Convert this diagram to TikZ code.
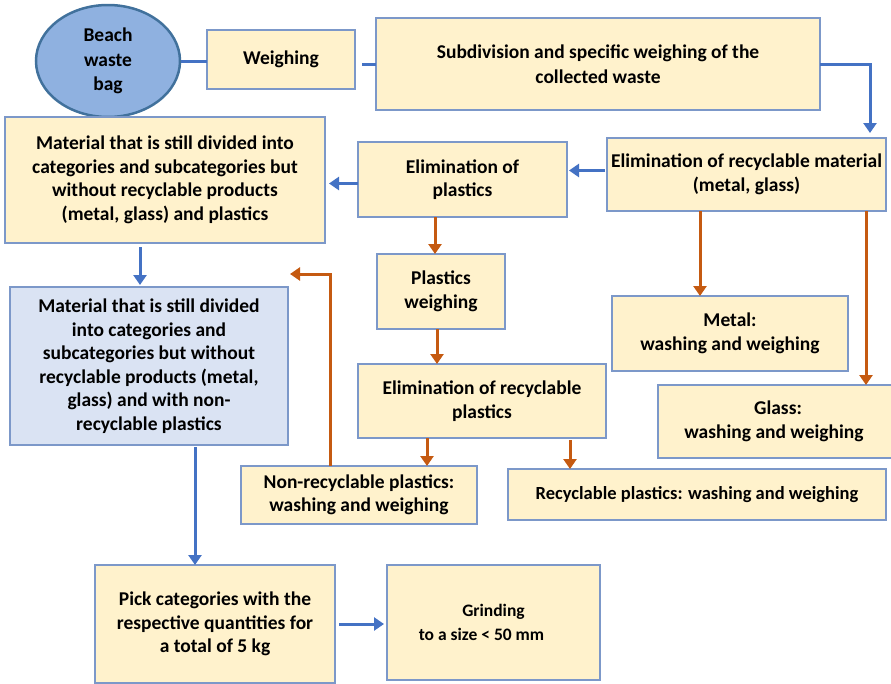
\documentclass[tikz,border=0pt]{standalone}
\usepackage{fontspec}
\setmainfont{Carlito}
\usetikzlibrary{arrows.meta,shapes.geometric}
\definecolor{boxfill}{HTML}{FFF2CC}
\definecolor{boxdraw}{HTML}{7C98C9}
\definecolor{bluefill}{HTML}{DAE3F3}
\definecolor{bagfill}{HTML}{8FB1E0}
\definecolor{bagdraw}{HTML}{41719C}
\definecolor{barrow}{HTML}{4472C4}
\definecolor{oarrow}{HTML}{C55A11}
\tikzset{
  box/.style={draw=boxdraw, fill=boxfill, line width=1.5pt, inner sep=0pt, outer sep=0pt,
    anchor=north west, align=center, font=\bfseries\fontsize{19.5}{23.5}\selectfont},
  bline/.style={draw=barrow, line width=3pt},
  barr/.style={bline, -{Triangle[length=10pt,width=13pt]}},
  oarr/.style={draw=oarrow, line width=3pt, -{Triangle[length=10pt,width=13pt]}},
}
\begin{document}
\begin{tikzpicture}[x=1pt,y=-1pt]
\useasboundingbox (0,0) rectangle (891,683);
\begin{scope}
\clip (0,0) rectangle (891,683);
\node[ellipse, draw=bagdraw, fill=bagfill, line width=2.5pt, minimum width=144pt, minimum height=112pt,
  inner sep=0pt, align=center, font=\bfseries\fontsize{19.5}{24.5}\selectfont] (bag) at (108,61) {Beach\\waste\\bag};
\node[box, minimum width=148pt, minimum height=59pt] (weigh) at (207,30) {Weighing};
\node[box, minimum width=444pt, minimum height=92pt, font=\bfseries\fontsize{19.5}{25}\selectfont] (sub) at (376,18) {Subdivision and specific weighing of the\\collected waste};
\node[box, minimum width=279pt, minimum height=73pt] (elimrec) at (607,138) {Elimination of recyclable material\\(metal, glass)};
\node[box, minimum width=209pt, minimum height=75pt] (elimpl) at (358,142) {Elimination of\\plastics};
\node[box, minimum width=320pt, minimum height=126pt] (mat1) at (5,117) {Material that is still divided into\\categories and subcategories but\\without recyclable products\\(metal, glass) and plastics};
\node[box, fill=bluefill, minimum width=278pt, minimum height=158pt] (mat2) at (10,287) {Material that is still divided\\into categories and\\subcategories but without\\recyclable products (metal,\\glass) and with non-\\recyclable plastics};
\node[box, minimum width=128pt, minimum height=75pt] (pw) at (377,254) {Plastics\\weighing};
\node[box, minimum width=248pt, minimum height=74pt] (erp) at (358,364) {Elimination of recyclable\\plastics};
\node[box, minimum width=236pt, minimum height=58pt] (nonrec) at (241,466) {Non-recyclable plastics:\\washing and weighing};
\node[box, minimum width=378pt, minimum height=51pt, font=\bfseries\fontsize{18.5}{23}\selectfont] (recpl) at (508,469) {Recyclable plastics: washing and weighing};
\node[box, minimum width=236pt, minimum height=75pt] (metal) at (612,296) {Metal:\\washing and weighing};
\node[box, minimum width=240pt, minimum height=73pt] (glass) at (658,385) {Glass:\\washing and weighing\hspace*{8pt}};
\node[box, minimum width=240pt, minimum height=118pt] (pick) at (95,565) {Pick categories with the\\respective quantities for\\a total of 5 kg};
\node[box, minimum width=213pt, minimum height=115pt, font=\bfseries\fontsize{17.5}{24}\selectfont] (grind) at (387,565) {Grinding\\to a size < 50 mm\hspace*{24pt}};

\draw[bline] (bag.east) -- (bag.east -| weigh.west);
\draw[bline, shorten <=7pt] (weigh.east |- sub.west) -- (sub.west);
\draw[barr, shorten >=5pt] (sub.east) -| ([xshift=-16pt]elimrec.north east);
\draw[barr, shorten <=2pt, shorten >=2pt] ([yshift=4pt]elimrec.west) -- ([yshift=4pt]elimrec.west -| elimpl.east);
\draw[barr, shorten >=4pt] ([yshift=-4pt]elimpl.west) -- ([yshift=-4pt]elimpl.west -| mat1.east);
\draw[barr, shorten <=4pt, shorten >=2pt] ([xshift=135pt]mat1.south west) -- ([xshift=135pt]mat1.south west |- mat2.north);
\draw[oarr] ([xshift=77pt]elimpl.south west) -- ([xshift=77pt]elimpl.south west |- pw.north);
\draw[oarr] ([xshift=60pt]pw.south west) -- ([xshift=60pt]pw.south west |- erp.north);
\draw[oarr] ([xshift=69pt]erp.south west) -- ([xshift=69pt]erp.south west |- nonrec.north);
\draw[oarr, shorten <=2pt] ([xshift=212pt]erp.south west) -- ([xshift=212pt]erp.south west |- recpl.north);
\draw[oarr, shorten >=2pt] ([xshift=89pt]nonrec.north west) |- ([yshift=13pt]mat2.north east);
\draw[oarr] ([xshift=93pt]elimrec.south west) -- ([xshift=93pt]elimrec.south west |- metal.north);
\draw[oarr] ([xshift=-20pt]elimrec.south east) -- ([xshift=-20pt]elimrec.south east |- glass.north);
\draw[barr, shorten <=2pt] ([xshift=185pt]mat2.south west) -- ([xshift=185pt]mat2.south west |- pick.north);
\draw[barr, shorten <=4pt, shorten >=3pt] (pick.east) -- (pick.east -| grind.west);
\end{scope}
\end{tikzpicture}
\end{document}
